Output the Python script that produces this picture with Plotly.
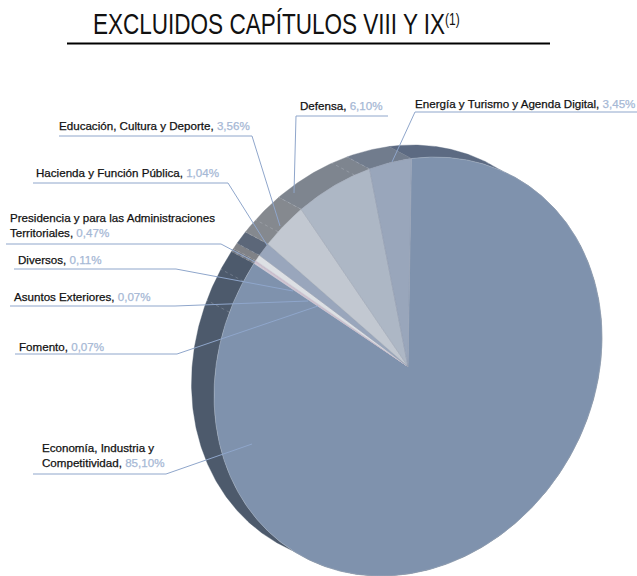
import numpy as np
import plotly.graph_objects as go

# ---- data, clockwise from the top of the pie
categories = ["Economía, Industria y<br>Competitividad", "Fomento", "Asuntos Exteriores", "Diversos",
              "Presidencia y para las Administraciones<br>Territoriales",
              "Hacienda y Función Pública", "Educación, Cultura y Deporte", "Defensa",
              "Energía y Turismo y Agenda Digital"]
shares = [85.10, 0.07, 0.07, 0.11, 0.47, 1.04, 3.56, 6.10, 3.45]
top_colors = ["#7f92ad", "#b9b3c6", "#c4b4c6", "#c9bccb", "#dde0e4", "#99a6bc", "#c2c8d1", "#adb7c5", "#99a6bb"]
wall_colors = ["#4d5a6c", "#6b6f78", "#6b6f78", "#777a80", "#808287", "#5c6779", "#85898f", "#7e858f", "#717c8d"]
edge_colors = ["#a9b4c5", "#c9bccb", "#c9bccb", "#c9bccb", "#c9c9d2", "#8f99ab", "#a7aeb9", "#9aa3b3", "#8e99ad"]

label_x = [40, 17, 12, 16, 8, 34, 57, 298, 413]
label_y = [454.5, 346, 296, 259, 224.5, 172, 125, 105, 103]
leaders = [
    [(33, 474), (166, 474), (252, 444)],
    [(15, 354), (177, 354), (318, 306)],
    [(10, 306), (175, 306), (308, 301)],
    [(14, 269), (176, 269), (293, 291)],
    [(6, 244), (221, 244), (255, 262)],
    [(33, 183), (228, 183), (267, 245)],
    [(59, 136), (252, 136), (280, 226)],
    [(388, 116), (296, 116), (294, 193)],
    [(637, 112), (415, 112), (392, 162)],
]
extra_seams = [-24, -50, -66, -75, 22]

# ---- projection of the tilted 3D pie onto the page
CX, CY, RX, RY = 408.0, 366.5, 194.0, 209.5
TILT = 8.0
START = -7.0
DX, DY = -22.5, -12.0


def rim(deg):
    t = np.radians(deg)
    return CX + RX * np.sin(t + np.radians(TILT)), CY - RY * np.cos(t)


total = sum(shares)
edges = START + np.concatenate([[0], np.cumsum(shares)]) * 360.0 / total

fig = go.Figure()


def add_wall(a, b, color, name):
    ts = np.linspace(a, b, max(3, int(abs(b - a)) * 2))
    x, y = rim(ts)
    xs = np.concatenate([x, (x + DX)[::-1], x[:1]])
    ys = np.concatenate([y, (y + DY)[::-1], y[:1]])
    fig.add_trace(go.Scatter(x=xs, y=ys, mode="lines", fill="toself", fillcolor=color,
                             line=dict(color=color, width=0.4), name=name, hoverinfo="name", showlegend=False))


# walls first, the top faces are painted over them
for i, name in enumerate(categories):
    a, b = edges[i], edges[i + 1]
    if i == 0:
        split = a + 62
        add_wall(a, split, "#5c6a82", name)
        add_wall(split, b, wall_colors[i], name)
    else:
        add_wall(a, b, wall_colors[i], name)

for i, name in enumerate(categories):
    a, b = edges[i], edges[i + 1]
    ts = np.linspace(a, b, max(3, int(b - a) * 2))
    x, y = rim(ts)
    fig.add_trace(go.Scatter(x=np.concatenate([[CX], x, [CX]]), y=np.concatenate([[CY], y, [CY]]),
                             mode="lines", fill="toself", fillcolor=top_colors[i],
                             line=dict(color=edge_colors[i], width=0.5), name=name,
                             text=f"{shares[i]:.2f}%", hoverinfo="name+text", showlegend=False))

shapes = []
for s in list(edges[1:-1]) + list(extra_seams):
    x0, y0 = rim(np.array(s))
    shapes.append(dict(type="line", xref="x", yref="y", x0=float(x0), y0=float(y0),
                       x1=float(x0 + DX), y1=float(y0 + DY),
                       line=dict(color="rgba(225,230,238,0.32)", width=0.7, dash="dot")))

for pts in leaders:
    path = "M " + " L ".join(f"{px},{py}" for px, py in pts)
    shapes.append(dict(type="path", xref="x", yref="y", path=path,
                       line=dict(color="#8fa6cb", width=1)))

shapes.append(dict(type="line", xref="x", yref="y", x0=67, x1=550, y0=43.5, y1=43.5,
                   line=dict(color="#000000", width=2)))

annotations = []
for i, name in enumerate(categories):
    pct = f"{shares[i]:.2f}".replace(".", ",") + "%"
    annotations.append(dict(x=label_x[i], y=label_y[i], xref="x", yref="y", xanchor="left", yanchor="middle",
                            align="left", showarrow=False,
                            text=f"{name}, <span style='color:#a6b8d5'>{pct}</span>",
                            font=dict(family="Liberation Sans", size=11.6, color="#111111")))

fig.update_layout(
    width=637, height=576, autosize=False,
    margin=dict(l=0, r=0, t=0, b=0),
    paper_bgcolor="white", plot_bgcolor="white",
    showlegend=False,
    title=dict(text="EXCLUIDOS CAPÍTULOS VIII Y IX<sup>(1)</sup>", x=93 / 637, xanchor="left",
               y=1 - 24 / 576, yanchor="middle",
               font=dict(family="Liberation Sans", size=30, color="#111111")),
    xaxis=dict(range=[0, 637], visible=False, domain=[0, 1], fixedrange=True),
    yaxis=dict(range=[576, 0], visible=False, domain=[0, 1], fixedrange=True),
    shapes=shapes, annotations=annotations,
)

# page margin off; title narrowed to the condensed width of the original; labels slightly heavier
post = """
document.documentElement.style.overflow='hidden';
document.body.style.margin='0';
var t=document.querySelector('.gtitle');
if(t){
 t.querySelectorAll('tspan').forEach(function(ts){
  if(ts.textContent==='(1)'){ts.style.fontSize='16px';}
 });
 var w=t.getComputedTextLength();var s=367/w;
 t.setAttribute('transform','translate(93 0) scale('+s+' 1) translate(-93 0)');
}
document.querySelectorAll('.annotation-text').forEach(function(a){
 a.style.stroke='#111111';a.style.strokeWidth='0.25px';
 a.querySelectorAll('tspan').forEach(function(ts){
  if(ts.style.fill){ts.style.stroke=ts.style.fill;}
 });
});
"""
fig.write_html("out.html", config={"displayModeBar": False}, post_script=post)
